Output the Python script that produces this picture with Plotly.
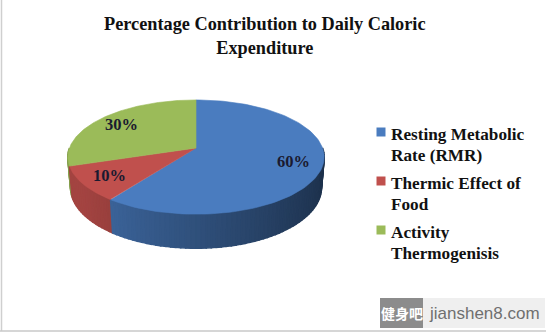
import math
import textwrap

import numpy as np
import plotly.graph_objects as go

# ---- data -------------------------------------------------------------
categories = ["Resting Metabolic Rate (RMR)", "Thermic Effect of Food", "Activity Thermogenisis"]
shares = [60, 10, 30]
colors = ["#4a7cbf", "#c0504d", "#9bbb59"]
title_text = "Percentage Contribution to Daily Caloric<br>Expenditure"
site_cn = "健身吧"
site_url = "jianshen8.com"

# ---- canvas ------------------------------------------------------------
W, H = 546, 333
SERIF = "Liberation Serif, Times New Roman, serif"

# ---- 3-D pie geometry (perspective view of a tilted disc) -------------
CX, CY = 196, 148          # screen position of the disc centre
SIN_A = 0.44               # elevation of the viewpoint
COS_A = math.sqrt(1 - SIN_A ** 2)
DIST = 5.65                # camera distance (in disc radii)
FOC = 715                  # focal length (pixels)
THICK = 0.27               # thickness of the disc (in radii)
LABEL_R = 0.78             # radial position of the percentage labels


def project(x, d, h):
    """x: left/right, d: depth (away from viewer), h: height."""
    v = d * SIN_A + h * COS_A
    z = DIST + d * COS_A - h * SIN_A
    return CX + FOC * x / z, CY - FOC * v / z


def shade(hex_col, k):
    r, g, b = (int(hex_col[i:i + 2], 16) for i in (1, 3, 5))
    return "rgb({},{},{})".format(int(r * k), int(g * k), int(b * k))


# slice angle ranges: start at 12 o'clock and run clockwise (angle decreasing)
total = float(sum(shares))
bounds = []
start = 90.0
for v in shares:
    end = start - 360.0 * v / total
    bounds.append((start, end))
    start = end


def slice_of(phi):
    for i, (a0, a1) in enumerate(bounds):
        for p in (phi, phi - 360, phi + 360):
            if a1 <= p <= a0:
                return i
    return 0


fig = go.Figure()

# side wall: narrow strips over the front half, shaded by horizontal position
cuts = [-180.0, 0.0]
for pair in bounds:
    for b in pair:
        w = ((b + 180) % 360) - 180
        if -180 < w < 0:
            cuts.append(w)
edges = sorted(set(cuts))
step = 2.0
phis = []
for a, b in zip(edges[:-1], edges[1:]):
    n = max(1, int(math.ceil((b - a) / step)))
    seg = np.linspace(a, b, n + 1)
    for p0, p1 in zip(seg[:-1], seg[1:]):
        phis.append((p0, p1))

for p0, p1 in phis:
    mid = 0.5 * (p0 + p1)
    idx = slice_of(mid)
    xm = math.cos(math.radians(mid))
    k = min(0.85, max(0.38, 0.65 - 0.25 * xm))
    col = shade(colors[idx], k)
    pts = []
    for p in (p0, p1):
        t = math.radians(p)
        pts.append(project(math.cos(t), math.sin(t), 0.0))
    for p in (p1, p0):
        t = math.radians(p)
        pts.append(project(math.cos(t), math.sin(t), -THICK))
    xs = [q[0] for q in pts] + [pts[0][0]]
    ys = [q[1] for q in pts] + [pts[0][1]]
    fig.add_trace(go.Scatter(x=xs, y=ys, mode="lines", fill="toself",
                             fillcolor=col, line=dict(color=col, width=1.6),
                             hoverinfo="skip", showlegend=False))

# top faces of the slices
for i, (a0, a1) in enumerate(bounds):
    angs = np.linspace(a0, a1, 120)
    pts = [project(0, 0, 0)]
    pts += [project(math.cos(math.radians(a)), math.sin(math.radians(a)), 0.0) for a in angs]
    pts.append(pts[0])
    fig.add_trace(go.Scatter(x=[q[0] for q in pts], y=[q[1] for q in pts],
                             mode="lines", fill="toself", fillcolor=colors[i],
                             line=dict(color=colors[i], width=0.6),
                             name=categories[i], hoverinfo="name",
                             showlegend=False))

# percentage labels
annotations = []
for i, (a0, a1) in enumerate(bounds):
    mid = math.radians(0.5 * (a0 + a1))
    lx, ly = project(LABEL_R * math.cos(mid), LABEL_R * math.sin(mid), 0.0)
    annotations.append(dict(x=lx, y=ly, text=f"{shares[i]}%", showarrow=False,
                            xanchor="center", yanchor="middle",
                            font=dict(family=SERIF, size=16.5, color="#1a1a30",
                                      weight="bold")))

# title
annotations.append(dict(x=264.5, y=36, text=title_text, showarrow=False,
                        xanchor="center", yanchor="middle",
                        font=dict(family=SERIF, size=18.3, color="#111111",
                                  weight="bold")))

# legend: swatch + wrapped category name
LEG_X, LEG_Y0, LEG_STEP, LINE_STEP = 389, 134, 49, 21
sw_x, sw_y = [], []
for i, name in enumerate(categories):
    lines = textwrap.wrap(name, width=17)
    y0 = LEG_Y0 + i * LEG_STEP
    sw_x.append(LEG_X - 8)
    sw_y.append(y0 - 2)
    for j, line in enumerate(lines):
        annotations.append(dict(x=LEG_X, y=y0 + j * LINE_STEP, text=line,
                                showarrow=False, xanchor="left", yanchor="middle",
                                font=dict(family=SERIF, size=17.2, color="#111111",
                                          weight="bold")))
fig.add_trace(go.Scatter(x=sw_x, y=sw_y, mode="markers",
                         marker=dict(symbol="square", size=9, color=colors,
                                     line=dict(width=0)),
                         hoverinfo="skip", showlegend=False))

# site mark, bottom right
shapes = [
    dict(type="rect", x0=380, x1=423, y0=298, y1=328, fillcolor="#8c8c8c",
         line=dict(width=0), layer="above"),
    dict(type="rect", x0=423, x1=545, y0=298, y1=328, fillcolor="#efefef",
         line=dict(width=0), layer="below"),
    dict(type="line", x0=1.5, x1=1.5, y0=0, y1=331, line=dict(color="#cfcfcf", width=1.5)),
    dict(type="line", x0=0, x1=W, y0=331, y1=331, line=dict(color="#c8c8c8", width=1.5)),
]
annotations.append(dict(x=401.5, y=313, text=site_cn, showarrow=False,
                        xanchor="center", yanchor="middle",
                        font=dict(family="Noto Sans CJK SC", size=14, color="white",
                                  weight="bold")))
annotations.append(dict(x=427, y=313, text=site_url, showarrow=False,
                        xanchor="left", yanchor="middle",
                        font=dict(family="Liberation Sans, Arial, sans-serif",
                                  size=17, color="#6f6f6f")))

fig.update_layout(
    width=W, height=H,
    margin=dict(l=0, r=0, t=0, b=0),
    paper_bgcolor="white", plot_bgcolor="white",
    xaxis=dict(range=[0, W], visible=False, fixedrange=True),
    yaxis=dict(range=[H, 0], visible=False, fixedrange=True),
    annotations=annotations,
    shapes=shapes,
    showlegend=False,
)

fig.write_html("out.html")
